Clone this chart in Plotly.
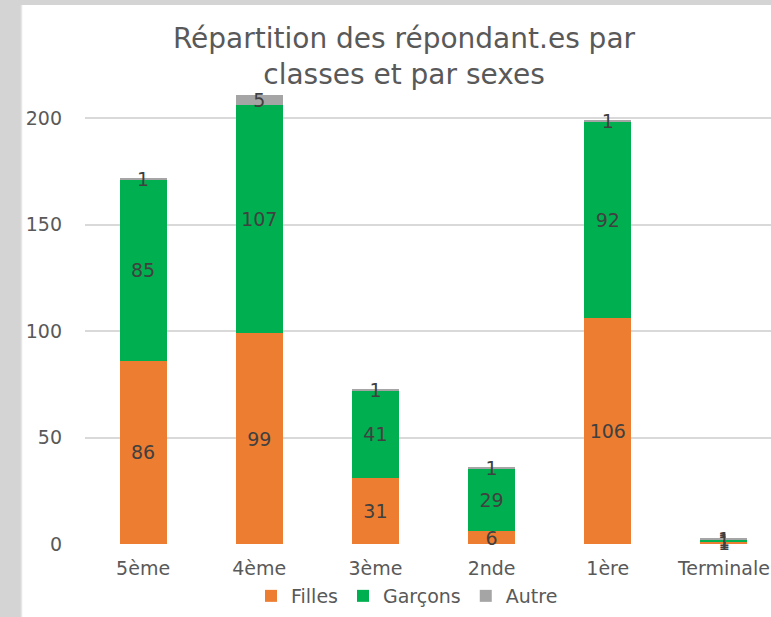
import plotly.graph_objects as go

categories = ["5ème", "4ème", "3ème", "2nde", "1ère", "Terminale"]
filles = [86, 99, 31, 6, 106, 1]
garcons = [85, 107, 41, 29, 92, 1]
autre = [1, 5, 1, 1, 1, 1]
y_ticks = [0, 50, 100, 150, 200]

FONT = "DejaVu Sans"
TXT = "#404040"
SZ = 19

fig = go.Figure()
for name, vals, col in [("Filles", filles, "#ED7D31"),
                        ("Garçons", garcons, "#00B050"),
                        ("Autre", autre, "#A5A5A5")]:
    fig.add_trace(go.Bar(
        x=categories, y=vals, name=name, marker=dict(color=col, line=dict(width=0)),
        text=[str(v) for v in vals], textposition="inside", insidetextanchor="middle",
        textangle=0, textfont=dict(family=FONT, size=SZ, color=TXT),
        cliponaxis=False,
    ))

L, W = 85, 686
T, B = 65, 544
H = B - T

def px_x(p):
    return (p - L) / W

def px_y(p):
    return (B - p) / H

fig.update_layout(
    width=771, height=617,
    template="none",
    barmode="stack", bargap=0.595,
    margin=dict(l=L, r=771 - L - W, t=T, b=617 - B, autoexpand=False),
    paper_bgcolor="white", plot_bgcolor="white",
    uniformtext=dict(minsize=SZ, mode="show"),
    title=dict(text="Répartition des répondant.es par<br>classes et par sexes",
               x=404 / 771, xref="container", xanchor="center",
               y=1 - 48 / 617, yref="container", yanchor="middle",
               font=dict(family=FONT, size=28, color="#595959")),
    xaxis=dict(range=[-0.5, 5.405], showgrid=False, showline=False, zeroline=False,
               ticks="", automargin=False, ticklabelstandoff=11,
               tickfont=dict(family=FONT, size=SZ, color="#595959")),
    yaxis=dict(range=[0, 225], tickvals=y_ticks, showgrid=True, gridcolor="#D9D9D9",
               gridwidth=1.5, zeroline=False, showline=False, ticks="", automargin=False,
               ticklabelstandoff=22,
               tickfont=dict(family=FONT, size=SZ, color="#595959")),
    legend=dict(orientation="h", x=px_x(407), xanchor="center", y=px_y(596), yanchor="middle",
                font=dict(family=FONT, size=SZ, color="#595959"),
                itemwidth=30, traceorder="normal", bgcolor="rgba(0,0,0,0)"),
    font=dict(family=FONT),
    shapes=[
        dict(type="rect", xref="paper", yref="paper", x0=px_x(0), x1=px_x(21),
             y0=px_y(617), y1=px_y(0), fillcolor="#D4D4D4", line=dict(width=0), layer="below"),
        dict(type="rect", xref="paper", yref="paper", x0=px_x(0), x1=px_x(771),
             y0=px_y(5), y1=px_y(0), fillcolor="#D4D4D4", line=dict(width=0), layer="below"),
        dict(type="line", xref="paper", yref="paper", x0=px_x(21.5), x1=px_x(21.5),
             y0=px_y(617), y1=px_y(5), line=dict(color="#E6E6E6", width=1.5), layer="below"),
    ],
)

fig.write_html("out.html", config={"displayModeBar": False},
               post_script="document.body.style.margin='0';")
